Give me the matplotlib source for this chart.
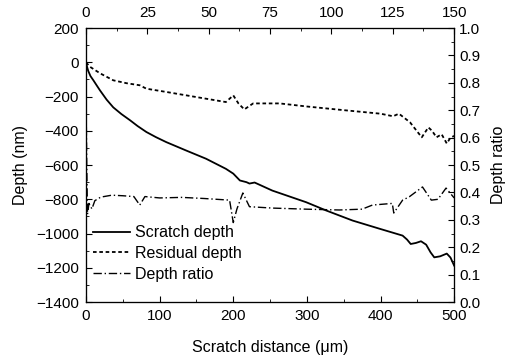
import matplotlib
matplotlib.use('Agg')
import matplotlib.pyplot as plt
from matplotlib.ticker import MultipleLocator

plt.rcParams['font.family'] = ['Liberation Sans', 'DejaVu Sans']
plt.rcParams['font.size'] = 11

# scratch depth (solid)
scratch_x = [0, 1, 3, 6, 10, 15, 19, 28, 37, 48, 60, 70, 82, 95, 109, 136, 163, 190, 200, 209,
             218, 222, 229, 253, 299, 326, 362, 398, 430, 436, 441, 448, 455, 462, 468, 473,
             481, 490, 495, 500]
scratch_y = [0, -20, -50, -80, -105, -138, -164, -218, -263, -302, -339, -372, -407, -437,
             -466, -515, -563, -622, -650, -690, -700, -708, -702, -749, -817, -865, -924, -971,
             -1012, -1035, -1061, -1055, -1045, -1065, -1110, -1139, -1133, -1117, -1140, -1187]

# residual depth (dotted)
resid_x = [0, 5, 19, 37, 55, 73, 82, 109, 150, 190, 200, 207, 215, 227, 263, 300, 354,
           400, 417, 425, 440, 456, 465, 470, 476, 483, 490, 495, 500]
resid_y = [0, -25, -64, -105, -122, -134, -154, -173, -203, -232, -193, -240, -275, -240,
           -240, -258, -281, -300, -315, -300, -350, -438, -380, -400, -438, -420, -474,
           -440, -430]

# depth ratio (dash-dot, right axis)
ratio_x = [0, 1, 2, 4, 8, 12, 20, 35, 50, 65, 73, 80, 100, 130, 160, 195, 200, 205, 213, 222,
           253, 299, 344, 375, 389, 416, 418, 430, 439, 457, 469, 478, 489, 500]
ratio_y = [0.75, 0.5, 0.32, 0.36, 0.34, 0.37, 0.383, 0.39, 0.388, 0.385, 0.354, 0.385, 0.38,
           0.382, 0.378, 0.372, 0.29, 0.34, 0.398, 0.348, 0.343, 0.339, 0.336, 0.339, 0.354,
           0.36, 0.325, 0.372, 0.384, 0.42, 0.372, 0.375, 0.416, 0.38]

fig = plt.figure(figsize=(5.12, 3.6), dpi=100)
ax = fig.add_axes([0.168, 0.161, 0.719, 0.761])

l1, = ax.plot(scratch_x, scratch_y, color='black', lw=1.3, linestyle='-')
l2, = ax.plot(resid_x, resid_y, color='black', lw=1.3, linestyle=(0, (2, 1.5)))
ax.set_xlim(0, 500)
ax.set_ylim(-1400, 200)
ax.xaxis.set_major_locator(MultipleLocator(100))
ax.xaxis.set_minor_locator(MultipleLocator(50))
ax.yaxis.set_major_locator(MultipleLocator(200))
ax.yaxis.set_minor_locator(MultipleLocator(100))
ax.set_xlabel('Scratch distance (\u03bcm)', fontsize=11.5, labelpad=12)
ax.set_ylabel('Depth (nm)', fontsize=11.5, labelpad=6)
ax.tick_params(which='both', direction='in')
ax.tick_params(which='major', length=4, pad=5)
ax.tick_params(which='minor', length=2)

ax2 = ax.twinx()
l3, = ax2.plot(ratio_x, ratio_y, color='black', lw=1.0, linestyle=(0, (6, 2, 1, 2)))
ax2.set_ylim(0, 1.0)
ax2.yaxis.set_major_locator(MultipleLocator(0.1))
ax2.yaxis.set_minor_locator(MultipleLocator(0.05))
ax2.yaxis.set_major_formatter(plt.FormatStrFormatter('%.1f'))
ax2.set_ylabel('Depth ratio', fontsize=11.5, labelpad=8)
ax2.tick_params(which='both', direction='in')
ax2.tick_params(which='major', length=4)
ax2.tick_params(which='minor', length=2)

ax3 = ax.twiny()
ax3.set_xlim(0, 150)
ax3.xaxis.set_major_locator(MultipleLocator(25))
ax3.xaxis.set_minor_locator(MultipleLocator(12.5))
ax3.tick_params(which='both', direction='in')
ax3.tick_params(which='major', length=4, pad=6)
ax3.tick_params(which='minor', length=2)

ax.legend([l1, l2, l3], ['Scratch depth', 'Residual depth', 'Depth ratio'],
          loc='lower left', bbox_to_anchor=(-0.019, 0.022), frameon=False,
          handlelength=2.3, handletextpad=0.3, labelspacing=0.35, fontsize=11.5)

fig.savefig('out.png', dpi=100)
